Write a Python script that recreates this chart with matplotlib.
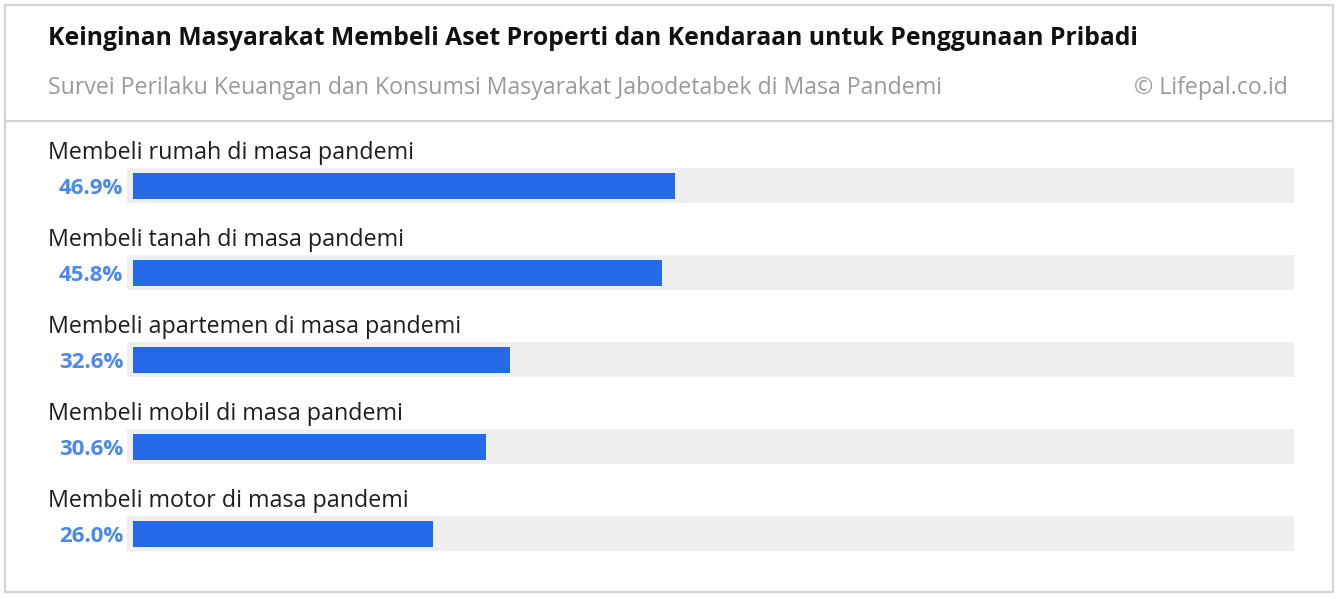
import matplotlib
matplotlib.use("Agg")
import matplotlib.pyplot as plt
from matplotlib.patches import Rectangle
from matplotlib.lines import Line2D
import matplotlib.transforms as mtransforms

# ---- data ----
categories = [
    "Membeli rumah di masa pandemi",
    "Membeli tanah di masa pandemi",
    "Membeli apartemen di masa pandemi",
    "Membeli mobil di masa pandemi",
    "Membeli motor di masa pandemi",
]
values = [46.9, 45.8, 32.6, 30.6, 26.0]
value_labels = ["46.9%", "45.8%", "32.6%", "30.6%", "26.0%"]
title = "Keinginan Masyarakat Membeli Aset Properti dan Kendaraan untuk Penggunaan Pribadi"
subtitle = "Survei Perilaku Keuangan dan Konsumsi Masyarakat Jabodetabek di Masa Pandemi"
credit = "\u00a9 Lifepal.co.id"

# ---- style ----
W, H = 1338, 598
FONT = ["Open Sans", "DejaVu Sans"]
plt.rcParams["font.family"] = FONT
BAR = "#2469e8"
PCT = "#4a89ee"
TRACK = "#efefef"
BORDER = "#d3d3d3"

fig = plt.figure(figsize=(W / 100, H / 100), dpi=100)
fig.patch.set_facecolor("white")

def fx(px):
    return px / W

def fy(py):
    return 1 - py / H

# outer border and separator
fig.add_artist(Rectangle((fx(5), fy(592)), fx(1333) - fx(5), fy(5) - fy(592),
                         transform=fig.transFigure, fill=False,
                         edgecolor=BORDER, linewidth=1.6))
fig.add_artist(Line2D([fx(5), fx(1333)], [fy(121), fy(121)],
                      transform=fig.transFigure, color=BORDER, linewidth=1.6))

# axes: x 0..100 maps to px 133..1288 ; rows spaced 87 px, first centre at 185.5
row = 87.0
c0 = 185.5
top_px = c0 - row / 2
bot_px = c0 + row * 4.5
ax = fig.add_axes([fx(133), fy(bot_px), fx(1288) - fx(133), fy(top_px) - fy(bot_px)])
ax.set_xlim(0, 100)
ax.set_ylim(len(values) - 0.5, -0.5)
ax.axis("off")

px_per_unit = (1288 - 133) / 100
pad = 6 / px_per_unit
idx = list(range(len(values)))
ax.barh(idx, [100 + 2 * pad] * len(values), left=-pad, height=35 / row,
        color=TRACK, clip_on=False, zorder=1)
ax.barh(idx, values, height=26 / row, color=BAR, clip_on=False, zorder=2)

trans_lbl = mtransforms.blended_transform_factory(fig.transFigure, ax.transData)

cat_texts = []
pct_texts = []
for i, (cat, lab) in enumerate(zip(categories, value_labels)):
    t = ax.text(fx(48), i - 26.5 / row, cat, transform=trans_lbl, ha="left",
                va="baseline", fontsize=13, color="#1e1e1e")
    cat_texts.append(t)
    p = ax.text(fx(123), i + 2.5 / row, lab, transform=trans_lbl, ha="right",
                va="center", fontsize=14, fontweight="bold", color=PCT)
    pct_texts.append(p)

t_title = fig.text(fx(48), fy(45), title, ha="left", va="baseline",
                   fontsize=16, fontweight="bold", color="#111111")
t_sub = fig.text(fx(48), fy(94), subtitle, ha="left", va="baseline",
                 fontsize=13.5, color="#9a9a9a")
t_cred = fig.text(fx(1288), fy(94), credit, ha="right", va="baseline",
                  fontsize=13.5, color="#9a9a9a")

# fit font sizes to the measured widths in the reference
fig.canvas.draw()
r = fig.canvas.get_renderer()

def fit(t, target):
    w = t.get_window_extent(r).width
    t.set_fontsize(t.get_fontsize() * target / w)

fit(t_title, 1090)
fit(t_sub, 897)
t_cred.set_fontsize(t_sub.get_fontsize())
fit(cat_texts[0], 364)
fit(pct_texts[0], 65)
for t in cat_texts[1:]:
    t.set_fontsize(cat_texts[0].get_fontsize())
for t in pct_texts[1:]:
    t.set_fontsize(pct_texts[0].get_fontsize())

fig.savefig("out.png", dpi=100, facecolor="white")
